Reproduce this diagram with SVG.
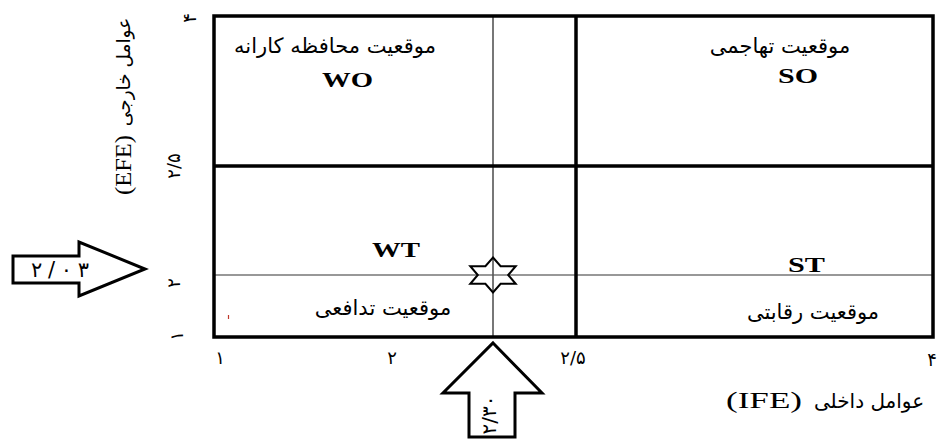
<svg xmlns="http://www.w3.org/2000/svg" width="940" height="440" viewBox="0 0 940 440">
<style>
.fa{font-family:"DejaVu Sans","Noto Sans",sans-serif;fill:#000;}
.lat{font-family:"Liberation Serif","DejaVu Sans",serif;fill:#000;}
.q{font-size:21px;}
.big{font-size:22px;font-weight:bold;}
.thick{stroke:#000;stroke-width:3.5;fill:none;}
.thin{stroke:#333;stroke-width:1.2;fill:none;}
.gray{stroke:#555;stroke-width:1.6;fill:none;}
.arrow{fill:#fff;stroke:#000;stroke-width:3;stroke-linejoin:miter;}
</style>
<rect width="940" height="440" fill="#fff"/>
<g id="connectors">
  <line class="thin" x1="214" y1="275" x2="932" y2="275"/>
  <line class="gray" x1="493" y1="16" x2="493" y2="337"/>
  <line class="thick" x1="214" y1="166" x2="932" y2="166"/>
  <line class="thick" x1="576" y1="16" x2="576" y2="337"/>
</g>
<g id="frame">
  <rect class="thick" x="214" y="16" width="719" height="321"/>
</g>
<g id="quad-WO">
  <text class="fa q" x="335" y="53" text-anchor="middle" direction="rtl">موقعیت محافظه کارانه</text>
  <text class="lat big" x="322" y="87" textLength="51" lengthAdjust="spacingAndGlyphs">WO</text>
</g>
<g id="quad-SO">
  <text class="fa q" x="780" y="53" text-anchor="middle" direction="rtl">موقعیت تهاجمی</text>
  <text class="lat big" x="778" y="83" textLength="40" lengthAdjust="spacingAndGlyphs">SO</text>
</g>
<g id="quad-WT">
  <text class="lat big" x="372" y="257" textLength="48" lengthAdjust="spacingAndGlyphs">WT</text>
  <text class="fa q" x="383" y="315" text-anchor="middle" direction="rtl">موقعیت تدافعی</text>
</g>
<g id="quad-ST">
  <text class="lat big" x="788" y="272" textLength="37" lengthAdjust="spacingAndGlyphs">ST</text>
  <text class="fa q" x="813" y="319" text-anchor="middle" direction="rtl">موقعیت رقابتی</text>
</g>
<g id="star">
  <polygon transform="translate(493,275)" fill="none" stroke="#000" stroke-width="2" points="0,-17.5 7.6,-8.75 22.7,-8.75 15.2,0 22.7,8.75 7.6,8.75 0,17.5 -7.6,8.75 -22.7,8.75 -15.2,0 -22.7,-8.75 -7.6,-8.75"/>
</g>
<g id="x-axis">
  <text class="fa" x="220" y="364" font-size="18" text-anchor="middle">۱</text>
  <text class="fa" x="392" y="364" font-size="18" text-anchor="middle">۲</text>
  <text class="fa" x="573" y="364" font-size="18" text-anchor="middle">۲/۵</text>
  <text class="fa" x="932" y="366" font-size="18" text-anchor="middle">۴</text>
  <text class="fa" x="869" y="408" font-size="20" text-anchor="middle" direction="rtl">عوامل داخلی</text>
  <text class="lat" x="726" y="408" font-size="24" textLength="76" lengthAdjust="spacingAndGlyphs">(IFE)</text>
</g>
<g id="y-axis">
  <text class="fa" transform="translate(196,18) rotate(-90)" font-size="18" text-anchor="middle">۴</text>
  <text class="fa" transform="translate(180,166) rotate(-90)" font-size="18" text-anchor="middle">۲/۵</text>
  <text class="fa" transform="translate(180,283) rotate(-90)" font-size="18" text-anchor="middle">۲</text>
  <text class="fa" transform="translate(183,336) rotate(-90)" font-size="18" text-anchor="middle">۱</text>
  <text class="fa" transform="translate(130,72) rotate(-90)" font-size="18.5" text-anchor="middle" direction="rtl">عوامل خارجی</text>
  <text class="lat" transform="translate(131,195) rotate(-90)" font-size="24" textLength="60" lengthAdjust="spacingAndGlyphs">(EFE)</text>
</g>
<g id="arrow-efe">
  <polygon class="arrow" points="13,256 79,256 79,242 145,269 79,296 79,283 13,283"/>
  <text class="fa" x="31" y="277" font-size="21" textLength="58" lengthAdjust="spacing">۲/۰۳</text>
</g>
<g id="arrow-ife">
  <polygon class="arrow" points="493,343 542,393 515,393 515,437 469,437 469,393 443,393"/>
  <text class="fa" transform="translate(496,415) rotate(-90)" font-size="20" text-anchor="middle">۲/۳۰</text>
</g>
<line x1="228.5" y1="315" x2="228.5" y2="319" stroke="#c0392b" stroke-width="1.2"/>
</svg>
